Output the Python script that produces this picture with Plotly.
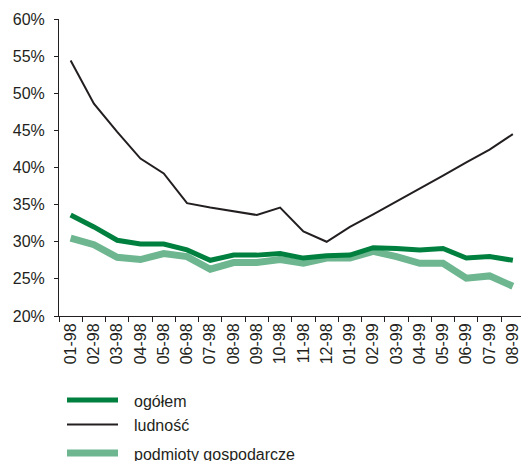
import plotly.graph_objects as go

categories = ["01-98", "02-98", "03-98", "04-98", "05-98", "06-98", "07-98", "08-98",
              "09-98", "10-98", "11-98", "12-98", "01-99", "02-99", "03-99", "04-99",
              "05-99", "06-99", "07-99", "08-99"]

ogolem = [33.6, 32.0, 30.2, 29.7, 29.7, 28.9, 27.5, 28.2, 28.2, 28.4, 27.8, 28.1,
          28.2, 29.2, 29.1, 28.9, 29.1, 27.8, 28.0, 27.5]
ludnosc = [54.4, 48.6, 44.8, 41.2, 39.2, 35.2, 34.6, 34.1, 33.6, 34.6, 31.4, 30.0,
           32.0, 33.7, 35.4, 37.2, 38.9, 40.7, 42.4, 44.5]
podmioty = [30.5, 29.6, 27.9, 27.6, 28.4, 28.0, 26.3, 27.2, 27.2, 27.6, 27.1, 27.8,
            27.8, 28.7, 28.0, 27.1, 27.1, 25.1, 25.4, 24.0]

y_ticks = [20, 25, 30, 35, 40, 45, 50, 55, 60]
y_tick_labels = ["20%", "25%", "30%", "35%", "40%", "45%", "50%", "55%", "60%"]

series = [
    ("ogółem", ogolem, "#00803f", 5),
    ("ludność", ludnosc, "#231f20", 2),
    ("podmioty gospodarcze", podmioty, "#6db690", 7),
]

FONT = "Liberation Sans, Arial, sans-serif"
TXT = "#231f20"

fig = go.Figure()
# draw light line first so dark green sits on top
for name, vals, color, w in [series[2], series[0], series[1]]:
    fig.add_trace(go.Scatter(x=categories, y=vals, mode="lines", name=name,
                             line=dict(color=color, width=w), showlegend=False))

# custom legend (layout decoration)
W_PLOT = 462.0
H_PLOT = 297.0
def px_x(p):
    return (p - 59) / W_PLOT
def px_y(p):
    return (316 - p) / H_PLOT

legend_rows = [400, 424.5, 453]
for (name, vals, color, w), row in zip(series, legend_rows):
    fig.add_shape(type="line", xref="paper", yref="paper",
                  x0=px_x(67), x1=px_x(118), y0=px_y(row), y1=px_y(row),
                  line=dict(color=color, width=w))
    fig.add_annotation(xref="paper", yref="paper", x=px_x(132), y=px_y(row + 1.5),
                       text=name, showarrow=False, xanchor="left", yanchor="middle",
                       font=dict(family=FONT, size=16, color=TXT))

fig.update_layout(
    width=521, height=461,
    margin=dict(l=59, r=0, t=19, b=145),
    paper_bgcolor="white", plot_bgcolor="white",
    font=dict(family=FONT, size=16, color=TXT),
)
fig.update_xaxes(
    type="category", range=[-0.5, 19.35],
    tickson="boundaries", ticks="outside", ticklen=5, tickcolor=TXT,
    tickangle=-90, showline=True, linecolor=TXT, linewidth=1,
    showgrid=False, zeroline=False,
    tickfont=dict(family=FONT, size=16, color=TXT),
)
fig.update_yaxes(
    range=[20, 60], tickvals=y_ticks, ticktext=y_tick_labels,
    ticks="outside", ticklen=4, tickcolor=TXT,
    showline=True, linecolor=TXT, linewidth=1,
    showgrid=False, zeroline=False, ticklabelstandoff=6,
    tickfont=dict(family=FONT, size=16, color=TXT),
)

fig.write_html("out.html")
